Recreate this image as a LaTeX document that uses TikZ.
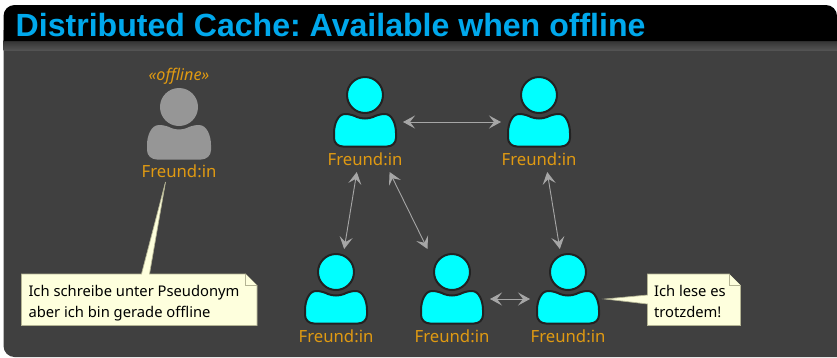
\documentclass[tikz,border=0pt]{standalone}
\usepackage{fontspec}
\setmainfont{Noto Sans}
\newfontfamily\titlefont{Liberation Sans}
\usetikzlibrary{arrows.meta}
\definecolor{panelgray}{HTML}{404040}
\definecolor{titleblue}{HTML}{00A8EC}
\definecolor{labelorange}{HTML}{E09A12}
\definecolor{arrowgray}{HTML}{A6A6A6}
\definecolor{notefill}{HTML}{FEFFDD}
\definecolor{noteline}{HTML}{B4B494}
\definecolor{friendcyan}{HTML}{00FFFF}
\definecolor{friendline}{HTML}{222222}
\definecolor{offlinegray}{HTML}{969696}
\tikzset{
	friendbox/.style={minimum width=76bp,minimum height=100bp,inner sep=0pt,outer sep=0pt},
	friendlabel/.style={text=labelorange,font=\fontsize{16.8}{17}\selectfont,inner sep=0pt},
	link/.style={<->,>={Stealth[length=12bp,width=13bp,inset=5bp]},arrowgray,line width=0.9bp},
	notetext/.style={align=left,text=black,font=\fontsize{14.8}{21}\selectfont,inner sep=0pt,outer sep=0pt},
	noteshape/.style={fill=notefill,draw=noteline,line width=0.7bp,line join=miter},
}
\begin{document}
\begin{tikzpicture}[x=1bp,y=-1bp,line join=round,line cap=round]
	\useasboundingbox (0,0) rectangle (837,357);
	\fill[white] (0,0) rectangle (837,357);
	% panel and title bar
	\fill[panelgray] (3.5,30) -- (3.5,300) [rounded corners=11bp] -- (3.5,357) [sharp corners] -- (837,357) -- (837,30) -- cycle;
	\shade[top color=black!80,bottom color=panelgray!90!white] (3.5,40.5) rectangle (837,50);
	\fill[black] (3.5,41) -- (3.5,20) [rounded corners=11bp] -- (3.5,5) -- (837,5) [sharp corners] -- (837,41) -- cycle;
	\node[anchor=base west,inner sep=0pt,text=titleblue,font=\titlefont\bfseries\fontsize{32.2}{32}\selectfont] (title) at (15.5,36) {Distributed Cache:\kern-3bp{} Available when offline};
	% friends
	\foreach \n/\x/\y/\h/\c/\e in {f0/179/122/107/offlinegray/offlinegray,f1/365/122/95/friendcyan/friendline,f2/539/122/95/friendcyan/friendline,f3/336/299/272/friendcyan/friendline,f4/452/299/272/friendcyan/friendline,f5/568/299/272/friendcyan/friendline}{
		\node[friendbox] (\n) at (\x,\y) {};
		\begin{scope}[shift={(\x,\h)}]
			\draw[fill=\c,draw=\e,line width=2bp] (0,0) circle (18bp);
			\draw[fill=\c,draw=\e,line width=2bp] (-20,19) .. controls (-15,19) and (-11,20.5) .. (-8,22) .. controls (-3,24) and (3,24) .. (8,22) .. controls (11,20.5) and (15,19) .. (20,19) .. controls (27,19) and (31,29) .. (31,38) -- (31,43) .. controls (31,48) and (27,51.5) .. (22,51.5) -- (-22,51.5) .. controls (-27,51.5) and (-31,48) .. (-31,43) -- (-31,38) .. controls (-31,29) and (-27,19) .. (-20,19) -- cycle;
			\node[friendlabel] (\n t) at (0,64.5) {Freund:in};
		\end{scope}
	}
	\node[friendlabel,font=\fontsize{16.2}{16}\itshape\selectfont] (f0s) at (179,76) {«offline»};
	% connectors
	\draw[link,dashed,black!75,dash pattern=on 6bp off 5bp] (f0) -- (f1);
	\draw[link] (f1) -- (f2);
	\draw[link] (f1) -- (f3);
	\draw[link] (f1) -- (f4);
	\draw[link] (f2) -- (f5);
	\draw[link] (f4) -- (f5);
	% notes
	\path (165.5,182) coordinate (tip0) (605,299) coordinate (tip5);
	\draw[noteshape] (21.5,274) -- (141.5,274) -- (tip0) -- (149.5,274) -- (245.5,274) -- (257,285.5) -- (257,325.5) -- (21.5,325.5) -- cycle;
	\draw[noteshape] (647.5,274) -- (729,274) -- (740.5,285.5) -- (740.5,325.5) -- (647.5,325.5) -- (647.5,304) -- (tip5) -- (647.5,295) -- cycle;
	\draw[noteshape] (245.5,274) -- (245.5,285.5) -- (257,285.5);
	\draw[noteshape] (729,274) -- (729,285.5) -- (740.5,285.5);
	\node[notetext,anchor=north west] (note0) at (28.5,285) {Ich schreibe unter Pseudonym\\aber ich bin gerade offline};
	\node[notetext,anchor=north west] (note5) at (654,285) {Ich lese es\\trotzdem!};
\end{tikzpicture}
\end{document}
